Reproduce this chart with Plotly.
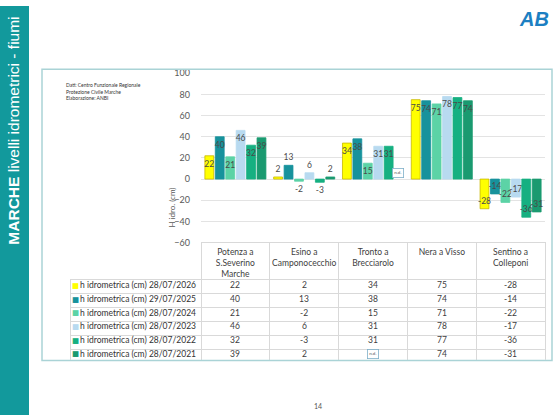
import plotly.graph_objects as go

W, H = 560, 420

categories = ["Potenza a<br>S.Severino<br>Marche", "Esino a<br>Camponocecchio",
              "Tronto a<br>Brecciarolo", "Nera a Visso", "Sentino a<br>Colleponi"]
series_names = ["h idrometrica (cm) 28/07/2026", "h idrometrica (cm) 29/07/2025",
                "h idrometrica (cm) 28/07/2024", "h idrometrica (cm) 28/07/2023",
                "h idrometrica (cm) 28/07/2022", "h idrometrica (cm) 28/07/2021"]
v2026 = [22, 2, 34, 75, -28]
v2025 = [40, 13, 38, 74, -14]
v2024 = [21, -2, 15, 71, -22]
v2023 = [46, 6, 31, 78, -17]
v2022 = [32, -3, 31, 77, -36]
v2021 = [39, 2, None, 74, -31]
series_values = [v2026, v2025, v2024, v2023, v2022, v2021]
y_ticks = [-60, -40, -20, 0, 20, 40, 60, 80, 100]

colors = ["#FFFF00", "#17929C", "#5CD3A6", "#B8DAF0", "#16B081", "#1A9A70"]
outlines = ["#C8B800", "#17929C", "#5CD3A6", "#B8DAF0", "#16B081", "#1A9A70"]
LABEL = "#404040"
BARLABEL = "#4A4A4A"
FONT = "Lato, 'Open Sans', sans-serif"

def px(x):
    return x / W

def py(y):
    return 1 - y / H

fig = go.Figure()

for name, vals, col, oc in zip(series_names, series_values, colors, outlines):
    texts = ["" if v is None else str(v) for v in vals]
    pos = ["outside" if (v is None or abs(v) < 14) else "inside" for v in vals]
    fig.add_trace(go.Bar(
        x=categories, y=vals, name=name, text=texts, textposition=pos,
        insidetextanchor="end", constraintext="none", textangle=0,
        textfont=dict(size=8.5, color=BARLABEL, family=FONT),
        insidetextfont=dict(size=8.5, color=BARLABEL, family=FONT),
        outsidetextfont=dict(size=8.5, color=BARLABEL, family=FONT),
        marker=dict(color=col, line=dict(color=oc, width=0.8)),
        cliponaxis=False, showlegend=False,
        xaxis="x", yaxis="y",
    ))

# table grid
TOP, HEAD, ROW = 243, 37, 14
X0, XC, X1 = 70, 201, 545
fig.add_trace(go.Table(
    domain=dict(x=[px(X0), px(X1)], y=[py(TOP + HEAD + ROW * 6), py(TOP)]),
    columnwidth=[XC - X0] + [(X1 - XC) / 5] * 5,
    header=dict(values=[""] * 6,
                fill_color="rgba(0,0,0,0)",
                line=dict(color=["rgba(0,0,0,0)"] + ["#D9D9D9"] * 5, width=1),
                height=HEAD),
    cells=dict(values=[[""] * 6] * 6,
               fill_color="rgba(0,0,0,0)",
               line=dict(color="#D9D9D9", width=1),
               height=ROW),
))

# table content: legend keys, labels and values
ann = []
for k, (c, n, vals) in enumerate(zip(colors, series_names, series_values)):
    yy = py(TOP + HEAD + ROW * (k + 0.5))
    ann.append(dict(text="■", xref="paper", yref="paper", x=px(75), y=yy,
                    xanchor="center", yanchor="middle", showarrow=False,
                    font=dict(size=7.5, color=c, family="DejaVu Sans")))
    ann.append(dict(text=n, xref="paper", yref="paper", x=px(78), y=yy,
                    xanchor="left", yanchor="middle", showarrow=False,
                    font=dict(size=8.5, color="#333333", family=FONT)))
    for cat, v in zip(categories, vals):
        if v is None:
            ann.append(dict(text="n.d.", xref="x", yref="paper", x=cat, y=yy,
                            xanchor="center", yanchor="middle", showarrow=False,
                            bordercolor="#7FAFC8", borderwidth=0.8, borderpad=1.5,
                            font=dict(size=4.5, color="#555555", family=FONT)))
        else:
            ann.append(dict(text=str(v), xref="x", yref="paper", x=cat, y=yy,
                            xanchor="center", yanchor="middle", showarrow=False,
                            font=dict(size=8.5, color=LABEL, family=FONT)))

fig.update_layout(
    width=W, height=H, margin=dict(l=0, r=0, t=0, b=0),
    paper_bgcolor="white", plot_bgcolor="rgba(0,0,0,0)",
    barmode="group", bargap=0.09, bargroupgap=0.15,
    font=dict(family=FONT, color=LABEL),
    xaxis=dict(domain=[px(XC), px(X1)], showticklabels=True, showgrid=False,
               zeroline=False, showline=False, ticks="", ticklabelstandoff=3,
               tickfont=dict(size=8.5, color=LABEL, family=FONT)),
    yaxis=dict(domain=[py(243), py(69)], range=[-60, 100], tickvals=y_ticks,
               showgrid=True, gridcolor="#E3E3E3", gridwidth=1,
               zeroline=True, zerolinecolor="#E3E3E3", zerolinewidth=1,
               showline=False, ticks="", ticklabelstandoff=10,
               tickfont=dict(size=9, color="#595959", family=FONT)),
    shapes=[
        dict(type="rect", xref="paper", yref="paper", x0=0, x1=px(29), y0=0, y1=1,
             fillcolor="#12999C", line=dict(width=0), layer="below"),
        dict(type="rect", xref="paper", yref="paper", x0=px(42), x1=px(552),
             y0=py(364), y1=py(65), line=dict(color="#AAD3D6", width=1.5),
             fillcolor="rgba(0,0,0,0)"),
    ],
    annotations=ann + [
        dict(text="<b>MARCHE</b> livelli idrometrici - fiumi", xref="paper", yref="paper",
             x=px(14), y=py(128), textangle=-90, showarrow=False,
             xanchor="center", yanchor="middle",
             font=dict(size=15.5, color="white", family="Liberation Sans, Arial, sans-serif")),
        dict(text="Dati: Centro Funzionale Regionale<br>Protezione Civile Marche<br>Elaborazione: ANBI",
             xref="paper", yref="paper", x=px(64), y=py(76), xanchor="left", yanchor="top",
             align="left", showarrow=False, font=dict(size=5, color="#333333", family=FONT)),
        dict(text="H idro. (cm)", xref="paper", yref="paper", x=px(172), y=py(207),
             textangle=-90, showarrow=False, xanchor="center", yanchor="middle",
             font=dict(size=8, color="#595959", family=FONT)),
        dict(text="n.d.", x=categories[2], y=0, xref="x", yref="y", xshift=25, yshift=1,
             yanchor="bottom", showarrow=False, bordercolor="#7FAFC8", borderwidth=0.8,
             borderpad=1.5, bgcolor="white", font=dict(size=4.5, color="#555555", family=FONT)),
        dict(text="<b><i>AB</i></b>", xref="paper", yref="paper", x=px(534), y=py(13),
             xanchor="center", yanchor="middle", showarrow=False,
             font=dict(size=20, color="#1C7FC2", family="Liberation Sans, Arial, sans-serif")),
        dict(text="14", xref="paper", yref="paper", x=px(318), y=py(411),
             xanchor="center", yanchor="middle", showarrow=False,
             font=dict(size=7, color="#555555", family=FONT)),
    ],
)

fig.write_html("out.html", config={"displayModeBar": False},
               post_script="document.body.style.margin='0';document.body.style.overflow='hidden';")
